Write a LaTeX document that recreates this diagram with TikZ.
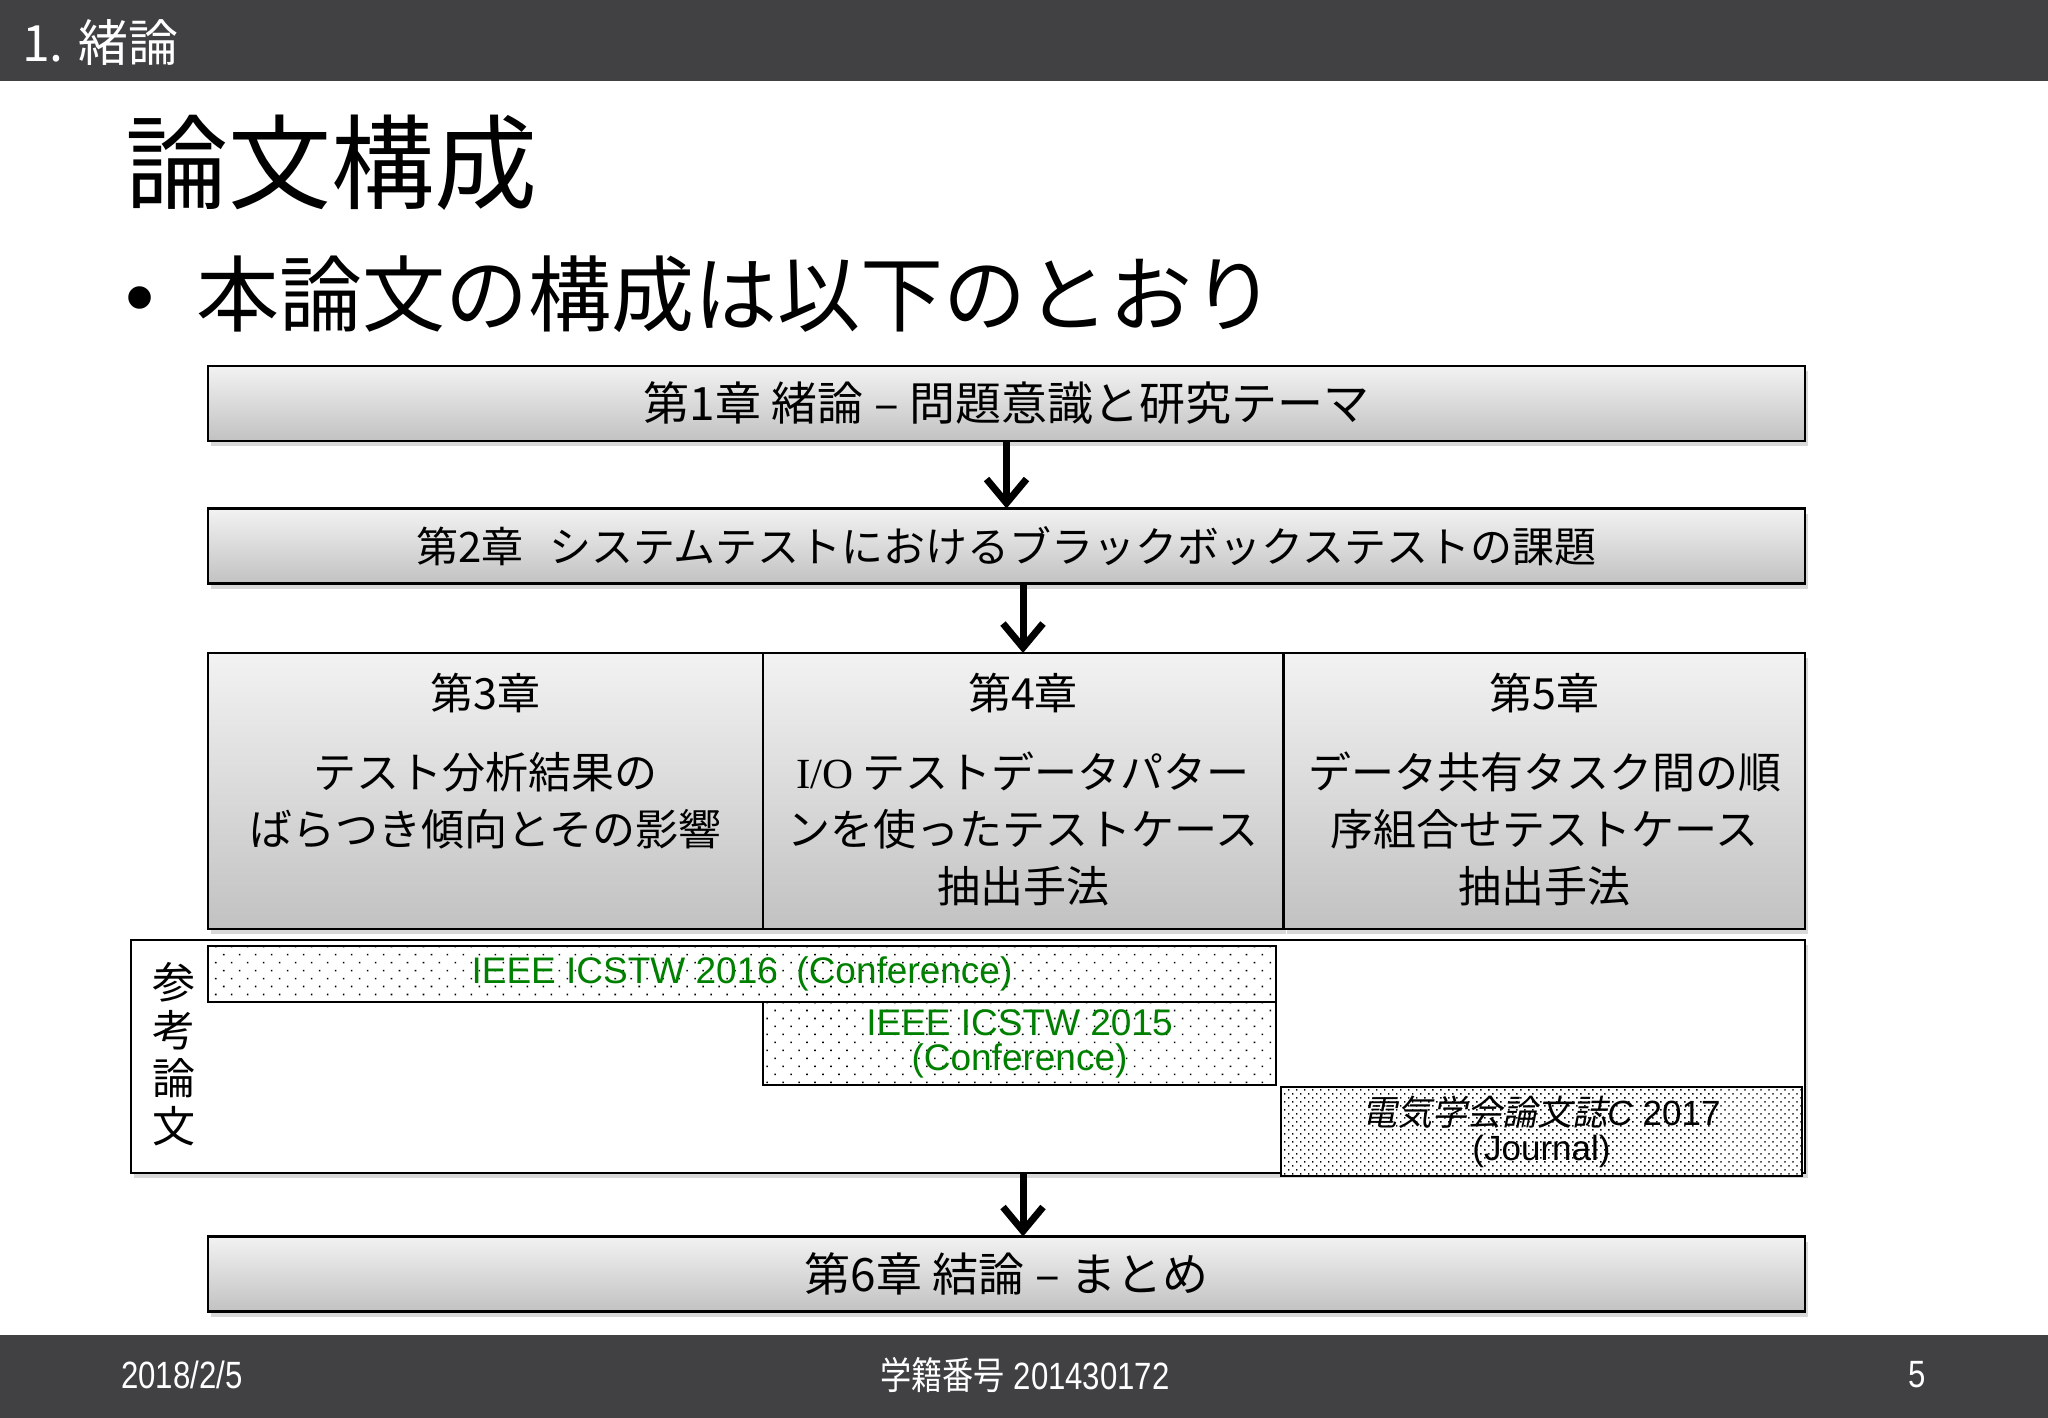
\documentclass[tikz,border=0pt]{standalone}
\usepackage{fontspec}
\setmainfont{Noto Sans CJK JP}
\newfontfamily\latinsf{Liberation Sans}
\newfontfamily\latinrm{Liberation Serif}
\newfontfamily\narrowsf[FakeStretch=0.82]{Liberation Sans}
\newfontfamily\narrowjp[FakeStretch=0.82]{Noto Sans CJK JP}
\newfontfamily\slantjp[FakeSlant=0.2]{Noto Sans CJK JP}
\usetikzlibrary{arrows.meta,shadows,positioning,patterns.meta}
\definecolor{barcolor}{RGB}{65,65,67}
\definecolor{refgreen}{RGB}{0,128,0}
\newcommand{\fsz}[2]{\fontsize{#1}{#2}\selectfont}
\tikzstyle{chapter}=[draw, line width=2.5pt, inner sep=0, outer sep=0,
                     top color=black!5, bottom color=black!24,
                     drop shadow={shadow xshift=3pt, shadow yshift=-5pt, opacity=0.3}]
\tikzstyle{widebox}=[chapter, minimum width=1597pt, minimum height=75pt, font=\fsz{46}{52}]
\tikzstyle{partbox}=[chapter, minimum height=276pt]
\tikzstyle{parttext}=[align=center, inner sep=0, font=\fsz{43}{57}]
\tikzstyle{paper}=[draw, line width=2pt, inner sep=0, outer sep=0, align=center,
                   preaction={fill=white}, pattern={Dots[distance=11.3pt, angle=45, radius=1.1pt]},
                   text=refgreen, font=\latinsf\fsz{37}{35}]
\tikzstyle{journal}=[paper, pattern={Dots[distance=5.66pt, angle=45, radius=1pt]},
                     text=black, font=\latinsf\fsz{35}{35}]
\tikzstyle{flow}=[line width=7pt, -{Straight Barb[length=24pt, width=40pt]}]
\tikzstyle{bartext}=[text=white, inner sep=0]

\begin{document}
\begin{tikzpicture}[x=1pt, y=-1pt]
    \useasboundingbox (0,0) rectangle (2048,1418);
    \fill[white] (0,0) rectangle (2048,1418);
    % header and footer bars
    \fill[barcolor] (0,0) rectangle (2048,81);
    \fill[barcolor] (0,1335) rectangle (2048,1418);
    \node[bartext, anchor=west, font=\fsz{50}{56}] (sect) at (22,43) {1. 緒論};
    \node[bartext, anchor=west, font=\narrowsf\fsz{38}{42}] (date) at (121,1375) {2018/2/5};
    \node[bartext, font=\narrowsf\fsz{38}{42}] (sid) at (1025,1375) {{\narrowjp 学籍番号} 201430172};
    \node[bartext, font=\narrowsf\fsz{38}{42}] (page) at (1917,1375) {5};

    \node[anchor=west, inner sep=0, font=\fsz{103}{110}] (title) at (125,163) {論文構成};
    \node[anchor=west, inner sep=0, font=\fsz{83}{90}] (lead) at (125,294)
        {\makebox[71pt][l]{\latinsf •}本論文の構成は以下のとおり};

    \node[widebox] (ch1) at (1006.5,403.5) {第1章 緒論 – 問題意識と研究テーマ};
    \node[widebox, font=\fsz{42}{50}] (ch2) at (1006.5,546) {第2章\hspace{0.6em}システムテストにおけるブラックボックステストの課題};

    \node[partbox, minimum width=555pt] (ch3) at (485.5,791) {};
    \node[partbox, minimum width=520pt] (ch4) at (1023,791) {};
    \node[partbox, minimum width=521pt] (ch5) at (1544.5,791) {};
    \node[parttext, below=20pt of ch3.north] (ch3txt)
        {第3章\\[22pt]テスト分析結果の\\ばらつき傾向とその影響};
    \node[parttext, below=20pt of ch4.north] (ch4txt)
        {第4章\\[22pt]{\latinrm I/O} テストデータパター\\ンを使ったテストケース\\抽出手法};
    \node[parttext, below=20pt of ch5.north] (ch5txt)
        {第5章\\[22pt]データ共有タスク間の順\\序組合せテストケース\\抽出手法};

    % reference papers
    \node[draw, line width=2.5pt, fill=white, inner sep=0, outer sep=0,
          minimum width=1674pt, minimum height=233pt,
          drop shadow={shadow xshift=3pt, shadow yshift=-5pt, opacity=0.3}] (refs) at (968,1056.5) {};
    \node[align=center, inner sep=0, font=\fsz{43}{48}] (reflabel) at (174,1054) {参\\考\\論\\文};
    \node[paper, minimum width=1068pt, minimum height=56pt] (icstw16) at (742,974)
        {IEEE ICSTW 2016\hspace{0.5em}(Conference)};
    \node[paper, minimum width=513pt, minimum height=83pt] (icstw15) at (1019.5,1043.5)
        {IEEE ICSTW 2015\\(Conference)};
    \node[journal, minimum width=521pt, minimum height=89pt] (ieej) at (1541.5,1131.5)
        {{\slantjp 電気学会論文誌}\textit{C} 2017\\(Journal)};

    \node[widebox] (ch6) at (1006.5,1274) {第6章 結論 – まとめ};

    \draw[flow] (ch1) -- (ch2);
    \draw[flow] (ch2.south -| ch4.north) -- (ch4.north);
    \draw[flow] (refs.south -| ch4.north) -- (ch6.north -| ch4.north);
\end{tikzpicture}
\end{document}
